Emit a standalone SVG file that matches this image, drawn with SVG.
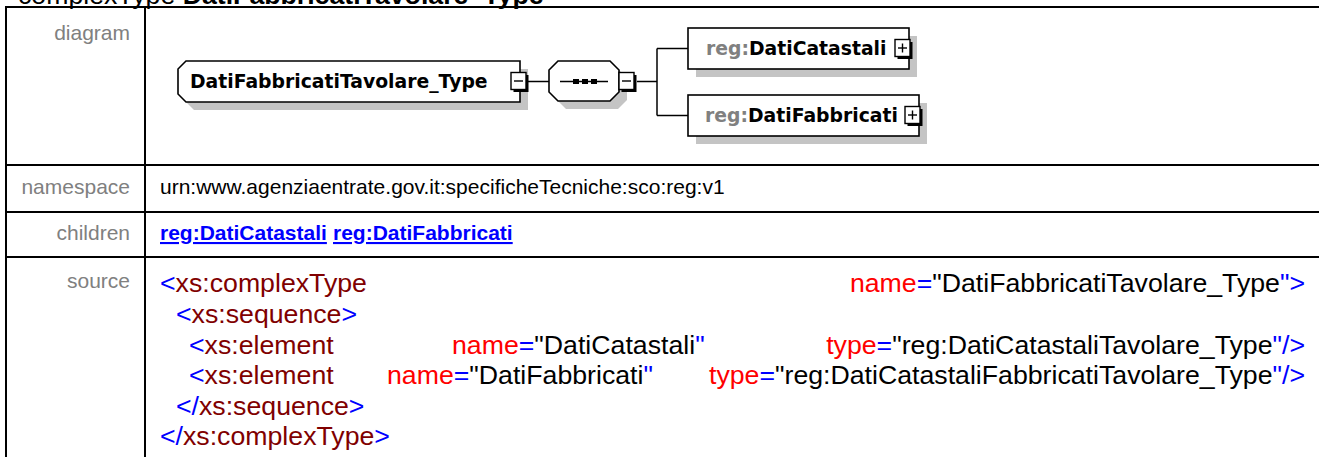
<svg xmlns="http://www.w3.org/2000/svg" width="1319" height="457" viewBox="0 0 1319 457">
<style>
.grid{stroke:#000;stroke-width:2;fill:none}
.lbl{font-family:"Liberation Sans",Arial,sans-serif;font-size:21px;fill:#808080;text-anchor:end}
.val{font-family:"Liberation Sans",Arial,sans-serif;font-size:21px;fill:#000}
.lnk{font-family:"Liberation Sans",Arial,sans-serif;font-size:21px;font-weight:bold;fill:#0000ff;text-decoration:underline}
.src{font-family:"Liberation Sans",Arial,sans-serif;font-size:26.7px;fill:#000}
.b{fill:#0000ff}.e{fill:#800000}.a{fill:#ff0000}
.shadow{fill:#c4c4c4;stroke:none}
.box{fill:#fff;stroke:#000;stroke-width:1.6}
.ntxt{font-family:"DejaVu Sans",Verdana,sans-serif;font-size:18.8px;font-weight:bold;fill:#000}
.ns{fill:#808080}
.conn{stroke:#000;stroke-width:1.5;fill:none}
.btn{fill:#fff;stroke:#000;stroke-width:1.4}
.btnsh{fill:#000}
.sym{stroke:#000;stroke-width:1.4}
</style>
<defs>
<g id="minus">
<rect class="btnsh" x="2.5" y="2.5" width="15" height="17"/>
<rect class="btn" x="0" y="0" width="15" height="17"/>
<line class="sym" x1="3" y1="8.5" x2="12" y2="8.5"/>
</g>
<g id="plus">
<rect class="btnsh" x="2.5" y="2.5" width="15" height="17"/>
<rect class="btn" x="0" y="0" width="15" height="17"/>
<line class="sym" x1="3" y1="8.5" x2="12" y2="8.5"/>
<line class="sym" x1="7.5" y1="4" x2="7.5" y2="13"/>
</g>
</defs>
<rect width="1319" height="457" fill="#fff"/>
<text x="18" y="4" style="font-family:'Liberation Sans',Arial,sans-serif;font-size:26.7px;fill:#000">complexType <tspan font-weight="bold">DatiFabbricatiTavolare_Type</tspan></text>
<g id="table">
<line class="grid" x1="5" y1="7" x2="1325" y2="7"/>
<line class="grid" x1="5" y1="165" x2="1325" y2="165"/>
<line class="grid" x1="5" y1="212" x2="1325" y2="212"/>
<line class="grid" x1="5" y1="257" x2="1325" y2="257"/>
<line class="grid" x1="6" y1="6" x2="6" y2="460"/>
<line class="grid" x1="145" y1="6" x2="145" y2="460"/>
</g>
<g id="labels">
<text class="lbl" x="130" y="40">diagram</text>
<text class="lbl" x="130" y="194">namespace</text>
<text class="lbl" x="130" y="240">children</text>
<text class="lbl" x="130" y="288">source</text>
</g>
<text class="val" x="160" y="194">urn:www.agenziaentrate.gov.it:specificheTecniche:sco:reg:v1</text>
<g id="children">
<text class="lnk" x="160" y="240">reg:DatiCatastali</text>
<text class="lnk" x="333" y="240">reg:DatiFabbricati</text>
</g>
<g id="source" class="src">
<text x="160" y="292"><tspan class="b">&lt;</tspan><tspan class="e">xs:complexType</tspan></text>
<text x="1305" y="292" text-anchor="end"><tspan class="a">name</tspan><tspan class="b">=</tspan>"DatiFabbricatiTavolare_Type<tspan class="b">"&gt;</tspan></text>
<text x="176" y="323"><tspan class="b">&lt;</tspan><tspan class="e">xs:sequence</tspan><tspan class="b">&gt;</tspan></text>
<text x="189" y="354"><tspan class="b">&lt;</tspan><tspan class="e">xs:element</tspan></text>
<text x="452" y="354"><tspan class="a">name</tspan><tspan class="b">=</tspan>"DatiCatastali<tspan class="b">"</tspan></text>
<text x="1305" y="354" text-anchor="end"><tspan class="a">type</tspan><tspan class="b">=</tspan>"reg:DatiCatastaliTavolare_Type<tspan class="b">"/&gt;</tspan></text>
<text x="189" y="384"><tspan class="b">&lt;</tspan><tspan class="e">xs:element</tspan></text>
<text x="387" y="384"><tspan class="a">name</tspan><tspan class="b">=</tspan>"DatiFabbricati<tspan class="b">"</tspan></text>
<text x="1305" y="384" text-anchor="end"><tspan class="a">type</tspan><tspan class="b">=</tspan>"reg:DatiCatastaliFabbricatiTavolare_Type<tspan class="b">"/&gt;</tspan></text>
<text x="176" y="415"><tspan class="b">&lt;/</tspan><tspan class="e">xs:sequence</tspan><tspan class="b">&gt;</tspan></text>
<text x="160" y="445"><tspan class="b">&lt;/</tspan><tspan class="e">xs:complexType</tspan><tspan class="b">&gt;</tspan></text>
</g>
<g id="connectors">
<line class="conn" x1="527" y1="81.5" x2="549" y2="81.5"/>
<line class="conn" x1="637" y1="81.5" x2="657" y2="81.5"/>
<line class="conn" x1="657" y1="48.5" x2="657" y2="115.5"/>
<line class="conn" x1="657" y1="48.5" x2="688" y2="48.5"/>
<line class="conn" x1="657" y1="115.5" x2="688" y2="115.5"/>
</g>
<g id="node-main">
<path class="shadow" d="M194,69 H528 V110 H194 L186,102 V77 Z"/>
<path class="box" d="M186,61 H520 V102 H186 L178,94 V69 Z"/>
<text class="ntxt" x="190" y="88">DatiFabbricatiTavolare_Type</text>
<use href="#minus" x="511" y="72.5"/>
</g>
<g id="node-sequence">
<path class="shadow" d="M566,69 H618 L627,78 V100 L618,109 H566 L557,100 V78 Z"/>
<path class="box" d="M558,61 H610 L619,70 V92 L610,101 H558 L549,92 V70 Z"/>
<line class="sym" x1="560" y1="81.5" x2="608" y2="81.5"/>
<rect x="573" y="79" width="6" height="5" fill="#000"/>
<rect x="582" y="79" width="6" height="5" fill="#000"/>
<rect x="591" y="79" width="6" height="5" fill="#000"/>
<use href="#minus" x="619" y="72.5"/>
</g>
<g id="node-DatiCatastali">
<rect class="shadow" x="696" y="36" width="221" height="41"/>
<rect class="box" x="688" y="28" width="221" height="41"/>
<text class="ntxt" x="706" y="55"><tspan class="ns">reg:</tspan>DatiCatastali</text>
<use href="#plus" x="895" y="39.5"/>
</g>
<g id="node-DatiFabbricati">
<rect class="shadow" x="696" y="103" width="231" height="41"/>
<rect class="box" x="688" y="95" width="231" height="41"/>
<text class="ntxt" x="705" y="122"><tspan class="ns">reg:</tspan>DatiFabbricati</text>
<use href="#plus" x="905" y="106.5"/>
</g>
</svg>
